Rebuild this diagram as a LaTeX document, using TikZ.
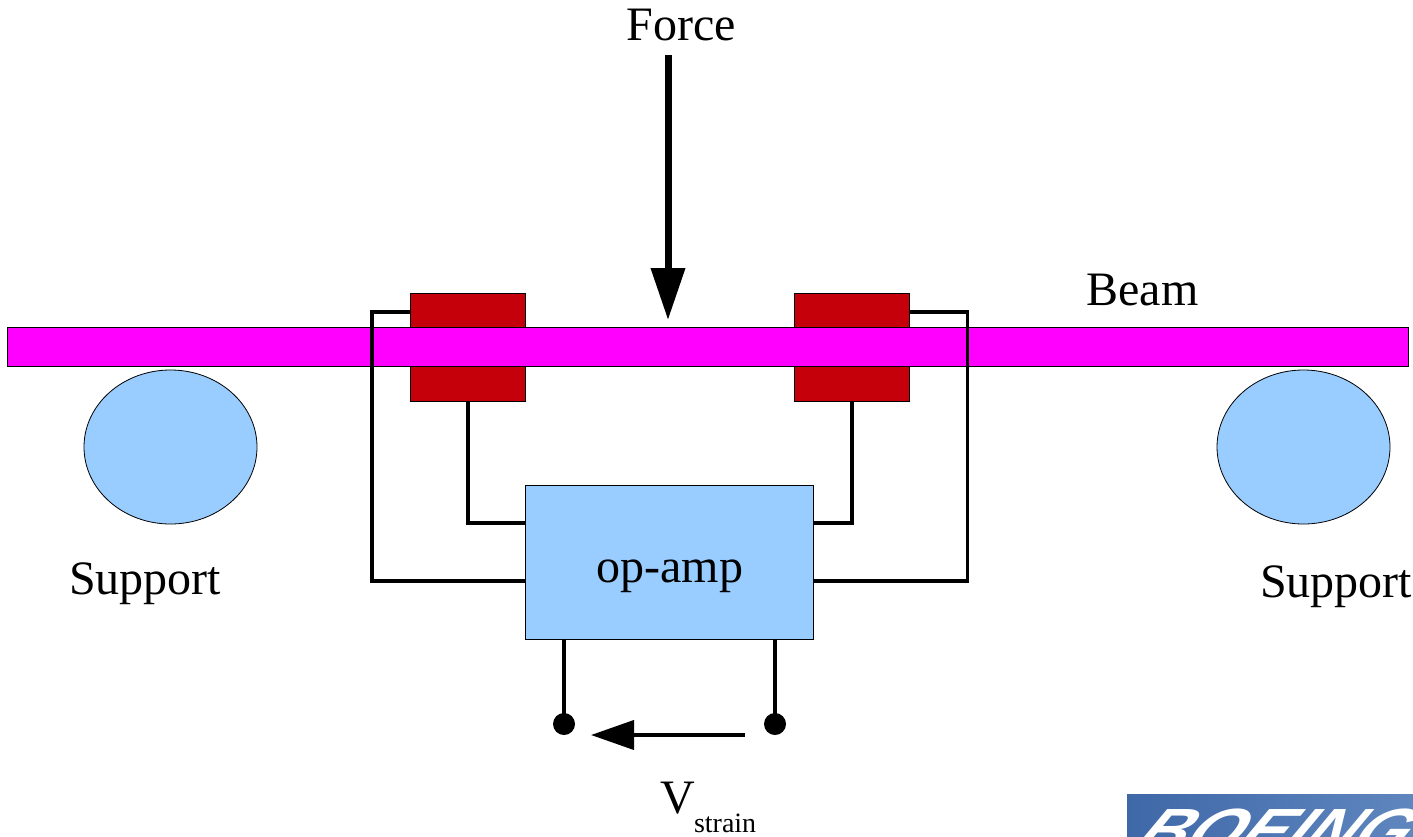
\documentclass[tikz,border=0pt]{standalone}
\usepackage{fontspec}
\setmainfont{Liberation Serif}
\newfontfamily\logofont{Liberation Sans}
\usetikzlibrary{arrows.meta,calc,shapes.geometric}
\definecolor{beamc}{HTML}{FF00FF}
\definecolor{gagec}{HTML}{C5000B}
\definecolor{bluec}{HTML}{99CCFF}
\definecolor{logoa}{HTML}{3F68A8}
\definecolor{logob}{HTML}{5F86BE}
\tikzset{
  x=1pt,y=-1pt,
  lab/.style={font=\fontsize{48}{48}\selectfont,anchor=base west,inner sep=0pt,outer sep=0pt},
  part/.style={draw=black,line width=0.8pt,minimum width=0pt,minimum height=0pt,inner sep=0pt,outer sep=0pt},
  wire/.style={draw=black,line width=3.8pt,line join=miter},
  term/.style={circle,fill=black,minimum size=22pt,inner sep=0pt,outer sep=0pt}
}
\begin{document}
\begin{tikzpicture}
\useasboundingbox (0,0) rectangle (1413,836);
% gauges
\node[part,fill=gagec,minimum width=115pt,minimum height=108pt] (gl) at (468,347) {};
\node[part,fill=gagec,minimum width=115pt,minimum height=108pt] (gr) at (852,347) {};
% beam
\node[part,fill=beamc,minimum width=1401.5pt,minimum height=39pt] (beam) at (708,346.8) {};
% supports
\node[part,ellipse,fill=bluec,minimum width=173pt,minimum height=154pt] (sl) at (170.5,447) {};
\node[part,ellipse,fill=bluec,minimum width=173pt,minimum height=154pt] (sr) at (1303.5,447) {};
% amp
\node[part,fill=bluec,minimum width=288pt,minimum height=154pt] (amp) at (669.8,562) {};
% wire corners
\coordinate (a1) at (372,312);
\coordinate (a2) at (372,581);
\coordinate (b1) at (967.5,312);
\coordinate (b2) at (967.5,581);
\coordinate (c0) at (0,523);
\draw[wire] (gl.west |- a1) -- (a1) -- (a2) -- (amp.west |- a2);
\draw[wire] (gr.east |- b1) -- (b1) -- (b2) -- (amp.east |- b2);
\draw[wire] (gl.south) -- (gl.south |- c0) -- (amp.west |- c0);
\draw[wire] (gr.south) -- (gr.south |- c0) -- (amp.east |- c0);
% terminals
\node[term] (tl) at (564,724) {};
\node[term] (tr) at (775,724) {};
\draw[wire] (tl |- amp.south) -- (tl.center);
\draw[wire] (tr |- amp.south) -- (tr.center);
% arrows
\coordinate (fs) at (668,55);
\coordinate (fe) at (668,320);
\draw[line width=7pt,-{Triangle[length=52pt,width=33pt,sep=0pt]}] (fs) -- (fe);
\coordinate (vs) at (745,735);
\coordinate (ve) at (591,735);
\draw[line width=4pt,-{Triangle[length=43pt,width=29pt,sep=0pt]}] (vs) -- (ve);
% labels
\node[lab] (force) at (626.5,40.5) {Force};
\node[lab] (beaml) at (1086.5,305.5) {Beam};
\node[lab] (sup1) at (69,594) {Support};
\node[lab] (sup2) at (1260,597) {Support};
\node[lab] (op) at (596.5,582) {op-amp};
\node[lab] (v) at (660,813) {V};
\node[lab,font=\fontsize{28}{28}\selectfont] (st) at (694,832) {strain};
% logo
\begin{scope}
\clip (1127,794) rectangle (1413,836);
\fill[left color=logoa,right color=logob] (1127,794) rectangle (1413,836);
\node[anchor=base west,inner sep=0pt,white,font=\logofont\bfseries\itshape\fontsize{61}{61}\selectfont,xscale=1.12,xslant=0.55] (logo) at (1131,851) {BOEING};
\end{scope}
\end{tikzpicture}
\end{document}
